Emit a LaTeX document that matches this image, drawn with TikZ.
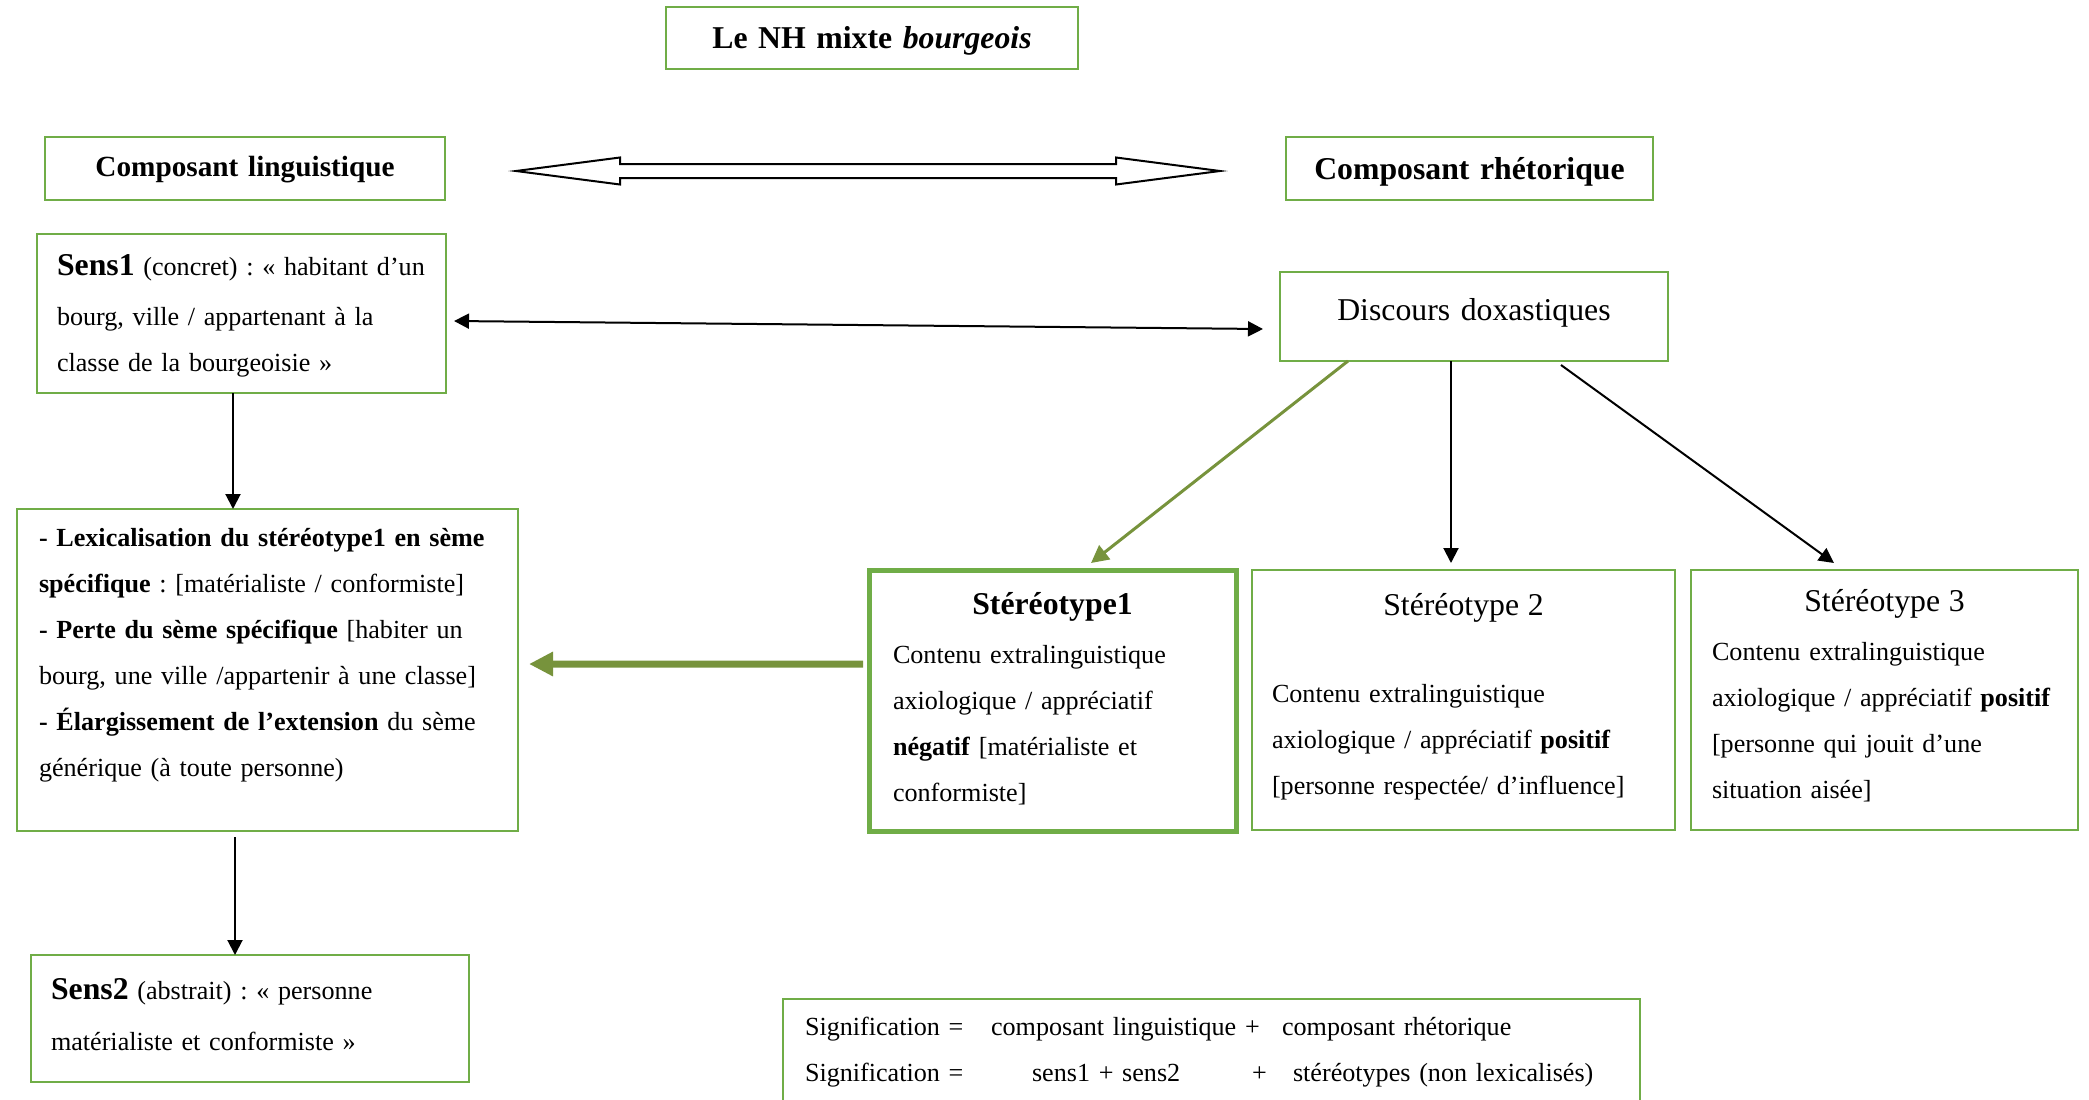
\documentclass[tikz,border=0pt]{standalone}
\usepackage{fontspec}
\setmainfont{Liberation Serif}
\usetikzlibrary{calc,arrows.meta}
\definecolor{boxgreen}{HTML}{70AD47}
\definecolor{olivegreen}{HTML}{77933C}
\def\bodyfont{\fontsize{10.45}{18.4}\selectfont\frenchspacing}
\def\headfont{\fontsize{12.7}{15.2}\selectfont}
\def\tabat#1#2{\makebox[0pt][l]{\hspace*{#1}#2}}
\tikzset{
	gbox/.style={draw=boxgreen, line width=1.1pt, anchor=north west, outer sep=0pt, inner ysep=0pt, font=\bodyfont, align=left},
	arr/.style={line width=0.8pt, -{Triangle[length=6pt,width=6pt]}},
	biarr/.style={line width=0.8pt, {Triangle[length=6pt,width=6pt]}-{Triangle[length=6pt,width=6pt]}}
}

\begin{document}
\begin{tikzpicture}[x=0.4pt, y=-0.4pt]
			%%%%% START %%%%%
			\useasboundingbox (0,0) rectangle (2089,1100);
			
			\node[gbox, align=center, inner xsep=0pt, text width=164.8pt, text height=16.4pt, text depth=8.4pt, font=\headfont\bfseries] (titre) at (666,7) {Le NH mixte \textit{bourgeois}};
			
			\node[gbox, align=center, inner xsep=0pt, text width=160pt, text height=15.6pt, text depth=9.6pt, font=\fontsize{11.7}{14}\selectfont\bfseries] (cling) at (45,137) {Composant linguistique};
			\node[gbox, align=center, inner xsep=0pt, text width=146.8pt, text height=16.8pt, text depth=8.4pt, font=\headfont\bfseries] (crhet) at (1286,137) {Composant rhétorique};
			
			\draw[line width=0.8pt] (516,171) -- (620,157.5) -- (620,164) -- (1116,164) -- (1116,157.5) -- (1220,171) -- (1116,184.5) -- (1116,178) -- (620,178) -- (620,184.5) -- cycle;
			
			\node[gbox, inner xsep=5.8pt, text width=152pt, text height=16.4pt, text depth=47.2pt] (sensA) at (37,234) {\hspace*{2.2pt}{\headfont\bfseries Sens1} (concret) : « habitant d’un\\[1.6pt]\hspace*{2.2pt}bourg, ville / appartenant à la\\\hspace*{2.2pt}classe de la bourgeoisie »};
			\node[gbox, align=center, inner xsep=0pt, text width=155.2pt, text height=19.2pt, text depth=16.4pt, font=\headfont] (doxa) at (1280,272) {Discours doxastiques};
			
			\node[gbox, inner xsep=8.8pt, text width=182.8pt, text height=14.8pt, text depth=114pt] (lex) at (17,509) {\textbf{- Lexicalisation du stéréotype1 en sème}\\ \textbf{spécifique} : [matérialiste / conformiste]\\ \textbf{- Perte du sème spécifique} [habiter un\\ bourg, une ville /appartenir à une classe]\\ \textbf{- Élargissement de l’extension} du sème\\ générique (à toute personne)};
			
			\node[gbox, line width=2pt, inner xsep=9.6pt, text width=127.6pt, text height=17.6pt, text depth=86.8pt] (steA) at (869,570) {\makebox[\linewidth][c]{\headfont\bfseries Stéréotype1}\\[1.2pt] Contenu extralinguistique\\ axiologique / appréciatif\\ \textbf{négatif} [matérialiste et\\ conformiste]};
			\node[gbox, inner xsep=8pt, text width=153.2pt, text height=18pt, text depth=86pt] (steB) at (1252,570) {\makebox[\linewidth][c]{\headfont Stéréotype 2}\\[16.4pt] Contenu extralinguistique\\ axiologique / appréciatif \textbf{positif}\\{}[personne respectée/ d’influence]};
			\node[gbox, inner xsep=8.4pt, text width=138pt, text height=16.4pt, text depth=87.6pt] (steC) at (1691,570) {\makebox[\linewidth][c]{\headfont Stéréotype 3}\\[1.2pt] Contenu extralinguistique\\ axiologique / appréciatif \textbf{positif}\\{}[personne qui jouit d’une\\ situation aisée]};
			
			\node[gbox, inner xsep=8pt, text width=159.2pt, text height=17.6pt, text depth=33.2pt] (sensB) at (31,955) {{\headfont\bfseries Sens2} (abstrait) : « personne\\[2pt] matérialiste et conformiste »};
			
			\node[gbox, inner xsep=8.8pt, text width=325.2pt, text height=14.4pt, text depth=32pt] (signif) at (783,999) {\tabat{0pt}{Signification =}\tabat{74.4pt}{composant linguistique +}\tabat{190.8pt}{composant rhétorique}\\ \tabat{0pt}{Signification =}\tabat{90.8pt}{sens1 + sens2}\tabat{178.8pt}{+}\tabat{195.2pt}{stéréotypes (non lexicalisés)}};
			
			% fleches
			\draw[biarr] ($(sensA.east)+(8,7.5)$) -- ($(doxa.west)+(-17,12.5)$);
			\coordinate (s1) at ($(sensA.south west)+(196,0)$);
			\draw[arr] (s1) -- (s1 |- lex.north);
			\coordinate (l1) at ($(lex.south west)+(218,6)$);
			\draw[arr] (l1) -- (l1 |- sensB.north);
			
			\draw[olivegreen, line width=1.2pt, -{Triangle[length=7pt,width=7pt]}] ($(doxa.south west)+(68,0)$) -- ($(steA.north west)+(222,-7)$);
			\coordinate (d2) at ($(doxa.south west)+(171,0)$);
			\draw[arr] (d2) -- ($(d2 |- steB.north)+(0,-7)$);
			\draw[arr] ($(doxa.south west)+(281,4)$) -- ($(steC.north west)+(143,-7)$);
			
			\draw[olivegreen, line width=2.8pt, -{Triangle[length=9.6pt,width=9.2pt]}] ($(steA.west)+(-6,-36.5)$) -- ($(lex.east)+(11,-6)$);
			
			%%%%% END %%%%%
\end{tikzpicture}
\end{document}
